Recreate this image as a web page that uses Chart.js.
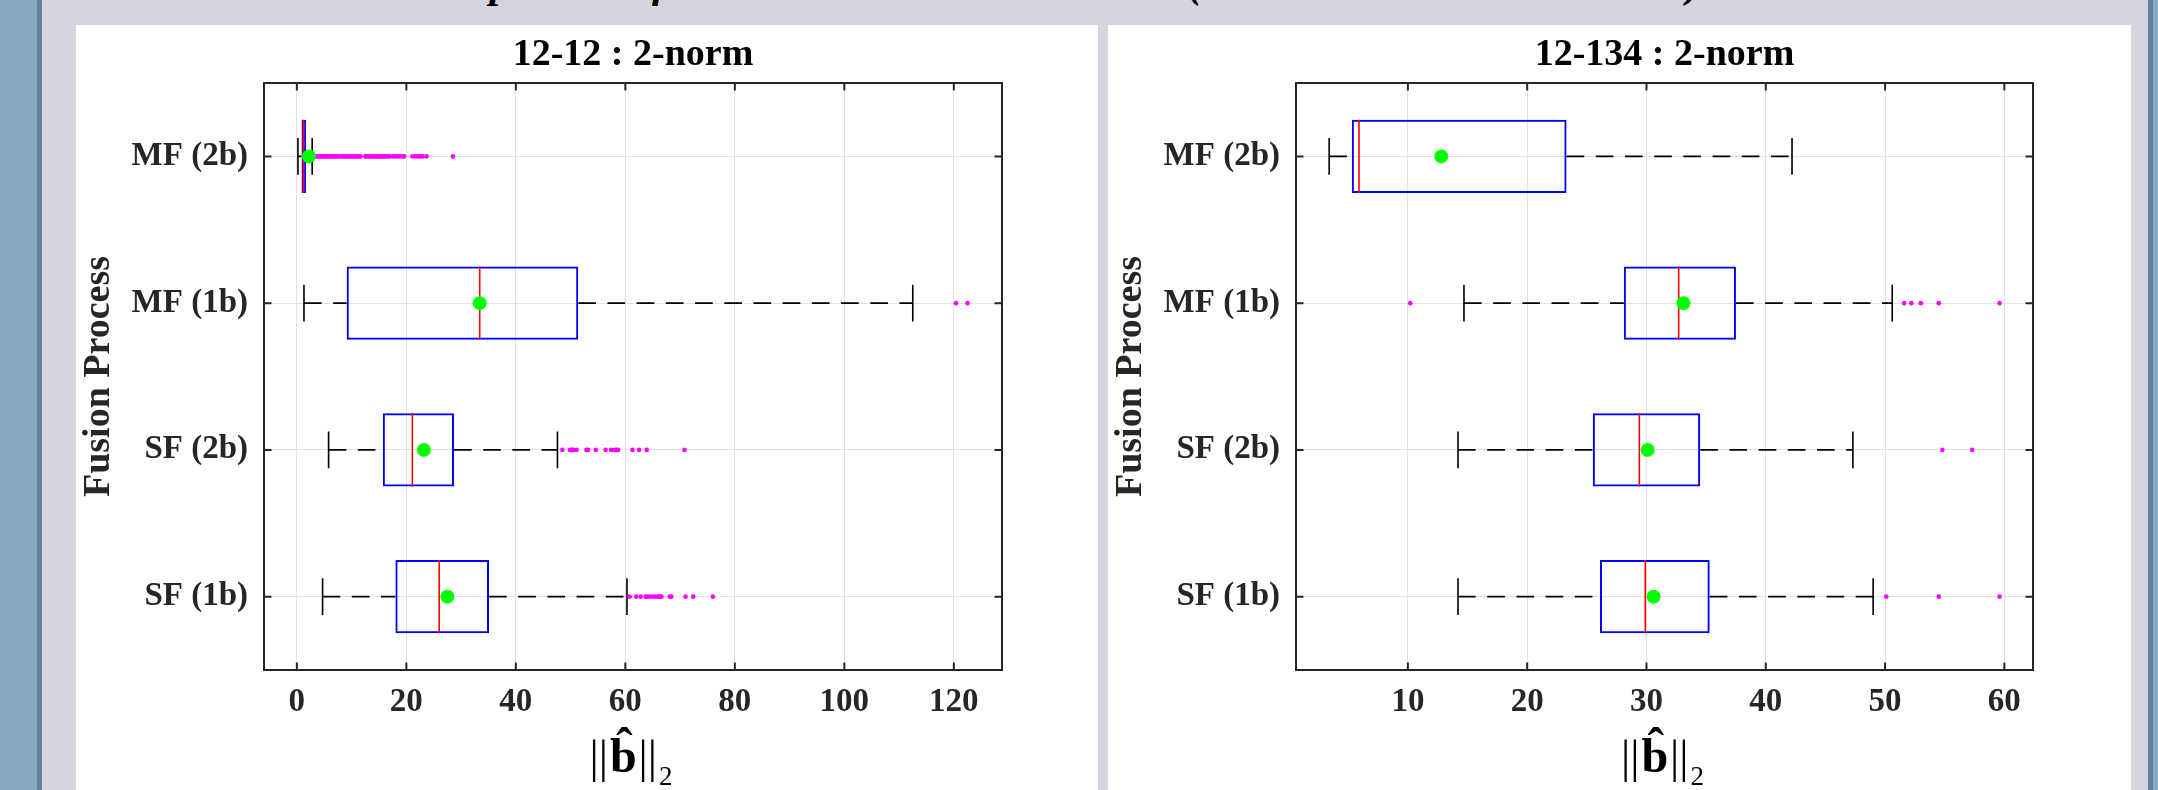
<!DOCTYPE html>
<html>
<head>
<meta charset="utf-8">
<title>Fusion process box plots</title>
<script src="https://cdn.jsdelivr.net/npm/chart.js@4.4.1/dist/chart.umd.min.js"></script>
<style>
  html, body { margin: 0; padding: 0; }
  body {
    width: 2158px; height: 790px; position: relative; overflow: hidden;
    background: #d5d5e0; font-family: 'Liberation Serif', serif;
  }
  .strip { position: absolute; top: 0; height: 790px; }
  .panel { position: absolute; top: 25px; height: 765px; background: #fff; }
  .suptitle {
    position: absolute; top: -41px; line-height: 42px; white-space: nowrap;
    font: italic bold 42px 'Liberation Serif', serif; color: #000;
  }
  canvas { display: block; }
</style>
</head>
<body>
<div class="strip" style="left:0;width:37px;background:#88a8c4"></div>
<div class="strip" style="left:37px;width:5px;background:#62819a"></div>
<div class="strip" style="left:2148px;width:5px;background:#62819a"></div>
<div class="strip" style="left:2153px;width:5px;background:#88a8c4"></div>

<!-- figure title, mostly cut off by the top edge of the window -->
<div class="suptitle" style="left:408px">Comparison of Estimated Sensor Bias Norms</div>
<div class="suptitle" style="left:1188px">(12-12 and 12-134 Scenarios)</div>

<div class="panel" style="left:76px;width:1022px">
  <canvas id="box12" width="1022" height="765"></canvas>
</div>
<div class="panel" style="left:1108px;width:1023px">
  <canvas id="box134" width="1023" height="765"></canvas>
</div>

<script>
// ---- 1. DATA --------------------------------
// categories, bottom to top on the y axis
const categories = ["SF (1b)", "SF (2b)", "MF (1b)", "MF (2b)"];
const categoryPos = [1, 2, 3, 4];

// panel "12-12 : 2-norm"
const ticks12 = [0, 20, 40, 60, 80, 100, 120];
const low12 = [4.7, 5.8, 1.3, 0.2];
const q1_12 = [18.0, 15.7, 9.1, 0.85];
const med12 = [26.0, 21.1, 33.4, 1.2];
const q3_12 = [35.1, 28.7, 51.4, 1.7];
const high12 = [60.3, 47.6, 112.5, 2.8];
const mean12 = [27.5, 23.2, 33.4, 2.2];
const outliers12 = [
  [60.8, 62.0, 62.8, 63.7, 64.0, 64.2, 64.8, 65.4, 65.9, 66.2, 66.4, 66.6, 68.1, 68.4, 71.0, 72.4, 76.0],
  [48.5, 49.9, 50.2, 50.5, 51.1, 52.9, 53.2, 54.6, 56.4, 57.4, 58.1, 58.4, 58.7, 61.3, 62.5, 63.9, 70.8],
  [120.4, 122.5],
  [3.3, 3.5, 3.8, 4.0, 4.3, 4.5, 4.8, 5.1, 5.3, 5.6, 5.9, 6.1, 6.4, 6.7, 7.0, 7.2, 7.5, 7.9,
   8.4, 8.6, 8.9, 9.3, 9.5, 9.8, 10.1, 10.4, 10.8, 11.0, 11.3, 11.6, 12.5, 12.7, 13.0, 13.4,
   13.6, 13.9, 14.3, 14.5, 14.8, 15.1, 15.4, 15.7, 16.0, 16.3, 16.7, 17.0, 17.6, 18.0, 18.3,
   18.8, 19.2, 19.6, 21.1, 21.7, 22.2, 22.6, 23.0, 23.7, 28.5],
];

// panel "12-134 : 2-norm"
const ticks134 = [10, 20, 30, 40, 50, 60];
const low134 = [14.2, 14.2, 14.7, 3.4];
const q1_134 = [26.1, 25.5, 28.1, 5.3];
const med134 = [29.9, 29.4, 32.7, 5.9];
const q3_134 = [35.3, 34.5, 37.5, 23.3];
const high134 = [49.0, 47.3, 50.6, 42.2];
const mean134 = [30.6, 30.1, 33.1, 12.8];
const outliers134 = [
  [50.1, 54.5, 59.6],
  [54.8, 57.3],
  [10.2, 51.6, 52.2, 53.0, 54.5, 59.6],
  [],
];

// ---- 2. HELPERS -----------------------------
Chart.defaults.font.family = "'Liberation Serif', 'Times New Roman', serif";
const axisGray = "#262626";

// flatten a list of line pieces, with a null point between pieces so they don't join
function pieces(list) {
  const out = [];
  list.forEach(p => out.push(...p, { x: null, y: null }));
  return out;
}

// box frame + matlab style inward tick marks
const axisFrame = {
  id: "axisFrame",
  afterDatasetsDraw(chart) {
    const { ctx, chartArea: a, scales: { x, y } } = chart;
    const len = 7.5;
    ctx.save();
    ctx.strokeStyle = axisGray;
    ctx.lineWidth = 2;
    ctx.beginPath();
    x.ticks.forEach((t, i) => {
      const px = x.getPixelForTick(i);
      ctx.moveTo(px, a.bottom); ctx.lineTo(px, a.bottom - len);
      ctx.moveTo(px, a.top); ctx.lineTo(px, a.top + len);
    });
    y.ticks.forEach((t, i) => {
      const py = y.getPixelForTick(i);
      ctx.moveTo(a.left, py); ctx.lineTo(a.left + len, py);
      ctx.moveTo(a.right, py); ctx.lineTo(a.right - len, py);
    });
    ctx.stroke();
    ctx.strokeRect(a.left, a.top, a.right - a.left, a.bottom - a.top);
    ctx.restore();
  },
};

// x axis label: ||b-hat||_2 (bold b with a hat, subscript 2)
const normLabel = {
  id: "normLabel",
  afterDraw(chart) {
    const { ctx, chartArea: a } = chart;
    const base = a.bottom + 102;
    const barFont = "46px 'Liberation Serif'";
    const bFont = "bold 48px 'Liberation Serif'";
    const hatFont = "bold 50px 'Liberation Serif'";
    const subFont = "27px 'Liberation Serif'";
    ctx.save();
    ctx.fillStyle = "#000";
    ctx.textBaseline = "alphabetic";
    ctx.textAlign = "left";
    ctx.font = barFont; const wBar = ctx.measureText("||").width;
    ctx.font = bFont; const mb = ctx.measureText("b");
    ctx.font = subFont; const wSub = ctx.measureText("2").width;
    const total = wBar * 2 + mb.width + wSub + 6;
    let x = (a.left + a.right) / 2 - 2 - total / 2;
    ctx.font = barFont; ctx.fillText("||", x, base); x += wBar + 2;
    ctx.font = bFont; ctx.fillText("b", x, base);
    const bTop = base - mb.actualBoundingBoxAscent;
    ctx.font = hatFont;
    const mh = ctx.measureText("\u02C6");
    ctx.textAlign = "center";
    ctx.fillText("\u02C6", x + mb.width / 2 + 1, bTop - 3 - mh.actualBoundingBoxDescent);
    ctx.textAlign = "left";
    x += mb.width + 2;
    ctx.font = barFont; ctx.fillText("||", x, base); x += wBar + 2;
    ctx.font = subFont; ctx.fillText("2", x, base + 13);
    ctx.restore();
  },
};

// ---- 3. ONE HORIZONTAL BOX PLOT PANEL -------
function boxPanel(id, title, s, xMin, xMax, xTicks, rightPad) {
  const pos = categoryPos;
  const boxes = pos.map((p, i) => ({ x: [s.q1[i], s.q3[i]], y: p }));
  const medians = pieces(pos.map((p, i) => [{ x: s.med[i], y: p - 0.25 }, { x: s.med[i], y: p + 0.25 }]));
  const whiskers = pieces(pos.flatMap((p, i) => [
    [{ x: s.low[i], y: p }, { x: s.q1[i], y: p }],
    [{ x: s.q3[i], y: p }, { x: s.high[i], y: p }],
  ]));
  const caps = pieces(pos.flatMap((p, i) => [
    [{ x: s.low[i], y: p - 0.125 }, { x: s.low[i], y: p + 0.125 }],
    [{ x: s.high[i], y: p - 0.125 }, { x: s.high[i], y: p + 0.125 }],
  ]));
  const means = pos.map((p, i) => ({ x: s.mean[i], y: p }));
  const outs = pos.flatMap((p, i) => s.out[i].map(v => ({ x: v, y: p })));

  const gridStyle = { color: "#e2e2e2", lineWidth: 1, drawTicks: false, offset: false };
  const tickFont = { size: 33, weight: "bold" };

  new Chart(document.getElementById(id).getContext("2d"), {
    type: "scatter",
    data: {
      datasets: [
        { label: "mean", data: means, order: 0, pointRadius: 7, pointBackgroundColor: "#00ff00", pointBorderWidth: 0 },
        { label: "outliers", data: outs, order: 1, pointRadius: 2.3, pointBackgroundColor: "#ff00ff", pointBorderWidth: 0 },
        { label: "median", data: medians, order: 2, showLine: true, pointRadius: 0, borderColor: "#ff0000", borderWidth: 1.6 },
        {
          label: "box", type: "bar", indexAxis: "y", data: boxes, order: 3,
          backgroundColor: "rgba(0,0,0,0)", borderColor: "#0000ff", borderWidth: 2,
          borderSkipped: false, categoryPercentage: 1, barPercentage: 0.5,
        },
        { label: "caps", data: caps, order: 4, showLine: true, pointRadius: 0, borderColor: "#000", borderWidth: 1.6 },
        {
          label: "whiskers", data: whiskers, order: 5, showLine: true, pointRadius: 0,
          borderColor: "#000", borderWidth: 1.6, borderDash: [17.7, 11.5],
        },
      ],
    },
    options: {
      responsive: false,
      animation: false,
      layout: { padding: { left: 0, top: 0, right: rightPad, bottom: 0 } },
      scales: {
        x: {
          type: "linear", min: xMin, max: xMax, offset: false,
          afterBuildTicks: sc => { sc.ticks = xTicks.map(v => ({ value: v })); },
          afterFit: sc => { sc.height = 120; },
          grid: gridStyle,
          border: { display: false },
          ticks: { padding: 13, color: axisGray, font: tickFont, autoSkip: false, maxRotation: 0 },
        },
        y: {
          type: "linear", min: 0.5, max: 4.5, offset: false,
          afterBuildTicks: sc => { sc.ticks = categoryPos.map(v => ({ value: v })); },
          afterFit: sc => { sc.width = 188; },
          grid: gridStyle,
          border: { display: false },
          ticks: {
            padding: 16, color: axisGray, font: tickFont, autoSkip: false,
            callback: (v, i) => categories[i],
          },
          title: {
            display: true, text: "Fusion Process", color: axisGray,
            font: { size: 38, weight: "bold" }, padding: { top: 0, bottom: 0 },
          },
        },
      },
      plugins: {
        legend: { display: false },
        tooltip: { enabled: false },
        title: {
          display: true, text: title, color: "#000", fullSize: false,
          font: { size: 38, weight: "bold" }, padding: { top: 7, bottom: 5.4 },
        },
      },
    },
    plugins: [axisFrame, normLabel],
  });
}

boxPanel("box12", "12-12 : 2-norm",
  { low: low12, q1: q1_12, med: med12, q3: q3_12, high: high12, mean: mean12, out: outliers12 },
  -6, 128.8, ticks12, 96);

boxPanel("box134", "12-134 : 2-norm",
  { low: low134, q1: q1_134, med: med134, q3: q3_134, high: high134, mean: mean134, out: outliers134 },
  0.62, 62.4, ticks134, 98);
</script>
</body>
</html>
